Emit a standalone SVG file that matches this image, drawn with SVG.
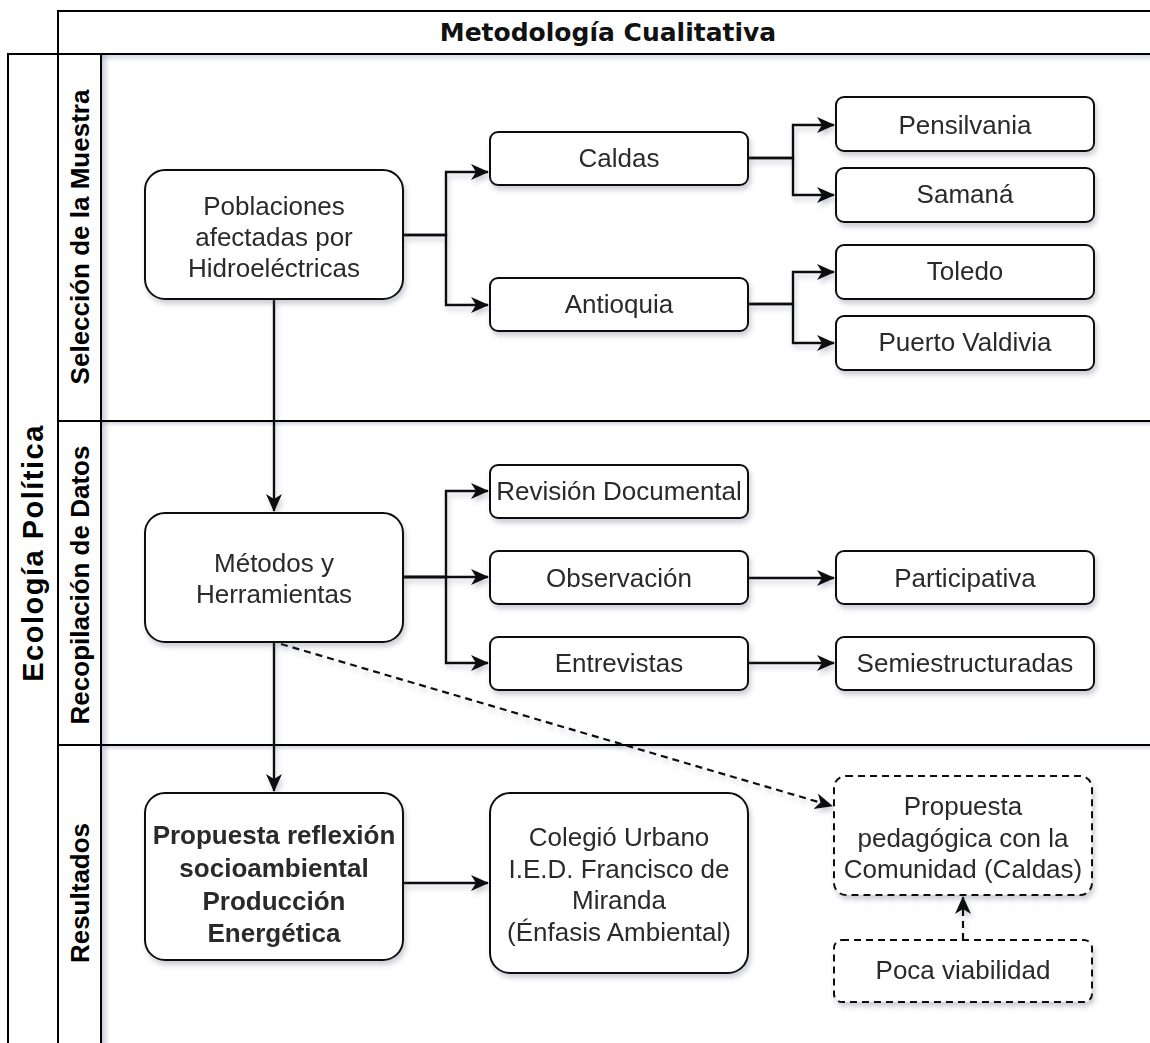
<svg xmlns="http://www.w3.org/2000/svg" width="1150" height="1043" viewBox="0 0 1150 1043">
<defs>
<style>
.frame{fill:none;stroke:#000;stroke-width:2}
.node{fill:#fff;stroke:#111;stroke-width:2}
.dnode{fill:#fff;stroke:#111;stroke-width:2;stroke-dasharray:7 5}
.t{font-family:"Liberation Sans",Arial,sans-serif;font-size:26px;fill:#2a2a2a;text-anchor:middle;dominant-baseline:central}
.tb{font-family:"Liberation Sans",Arial,sans-serif;font-size:26px;font-weight:bold;fill:#2a2a2a;text-anchor:middle;dominant-baseline:central}
.lane{font-family:"Liberation Sans",Arial,sans-serif;font-size:26px;font-weight:bold;fill:#000;text-anchor:middle;dominant-baseline:central}
.pool{font-family:"Liberation Sans",Arial,sans-serif;font-size:29px;font-weight:bold;letter-spacing:1.5px;fill:#000;text-anchor:middle;dominant-baseline:central}
.title{font-family:"DejaVu Sans",Verdana,sans-serif;font-size:25px;font-weight:bold;fill:#111;text-anchor:middle;dominant-baseline:central}
.edge{fill:none;stroke:#111;stroke-width:2.4}
.dedge{fill:none;stroke:#111;stroke-width:2.2;stroke-dasharray:7 5}
</style>
<filter id="sh" x="-10%" y="-10%" width="130%" height="140%">
<feDropShadow dx="2" dy="4" stdDeviation="2.5" flood-color="#4a5070" flood-opacity="0.28"/>
</filter>
<marker id="arr" markerWidth="20" markerHeight="20" refX="17" refY="10" orient="auto" markerUnits="userSpaceOnUse">
<path d="M0,2 L18,10 L0,18 L5,10 Z" fill="#111"/>
</marker>
<linearGradient id="gv" x1="0" y1="0" x2="1" y2="0">
<stop offset="0" stop-color="#8a90b0" stop-opacity="0.45"/>
<stop offset="1" stop-color="#8a90b0" stop-opacity="0"/>
</linearGradient>
<linearGradient id="gh" x1="0" y1="0" x2="0" y2="1">
<stop offset="0" stop-color="#8a90b0" stop-opacity="0.35"/>
<stop offset="1" stop-color="#8a90b0" stop-opacity="0"/>
</linearGradient>
</defs>
<rect x="0" y="0" width="1150" height="1043" fill="#fff"/>

<g id="pool">
<rect x="102" y="55" width="8" height="988" fill="url(#gv)"/>
<rect x="102" y="55" width="1048" height="7" fill="url(#gh)"/>
<rect x="102" y="422" width="1048" height="5" fill="url(#gh)"/>
<rect x="102" y="746" width="1048" height="5" fill="url(#gh)"/>
<path class="frame" d="M58,1043 V11 H1150"/>
<path class="frame" d="M8,1043 V54 H1150"/>
<path class="frame" d="M101,54 V1043"/>
<path class="frame" d="M58,421 H1150"/>
<path class="frame" d="M58,745 H1150"/>
<text class="title" x="608" y="32">Metodología Cualitativa</text>
<text class="pool" transform="translate(33,553) rotate(-90)">Ecología Política</text>
<text class="lane" transform="translate(80,237) rotate(-90)">Selección de la Muestra</text>
<text class="lane" transform="translate(80,585) rotate(-90)">Recopilación de Datos</text>
<text class="lane" transform="translate(80,893) rotate(-90)">Resultados</text>
</g>

<g id="connectors" filter="url(#sh)">
<path class="edge" d="M403,235 H446 V172 H488" marker-end="url(#arr)"/>
<path class="edge" d="M403,235 H446 V305 H488" marker-end="url(#arr)"/>
<path class="edge" d="M748,158 H793 V125 H834" marker-end="url(#arr)"/>
<path class="edge" d="M748,158 H793 V195 H834" marker-end="url(#arr)"/>
<path class="edge" d="M748,304 H793 V272 H834" marker-end="url(#arr)"/>
<path class="edge" d="M748,304 H793 V343 H834" marker-end="url(#arr)"/>
<path class="edge" d="M274,299 V511" marker-end="url(#arr)"/>
<path class="edge" d="M403,577 H446 V491 H488" marker-end="url(#arr)"/>
<path class="edge" d="M403,577 H488" marker-end="url(#arr)"/>
<path class="edge" d="M403,577 H446 V663 H488" marker-end="url(#arr)"/>
<path class="edge" d="M748,578 H834" marker-end="url(#arr)"/>
<path class="edge" d="M748,663 H834" marker-end="url(#arr)"/>
<path class="edge" d="M274,642 V791" marker-end="url(#arr)"/>
<path class="edge" d="M403,883 H488" marker-end="url(#arr)"/>
<path class="dedge" d="M281,644 L832,806" marker-end="url(#arr)"/>
<path class="dedge" d="M963,940 V897" marker-end="url(#arr)"/>
</g>

<g id="poblaciones" filter="url(#sh)">
<rect class="node" x="145" y="170" width="258" height="129" rx="20"/>
<text class="t" x="274" y="206">Poblaciones</text>
<text class="t" x="274" y="237">afectadas por</text>
<text class="t" x="274" y="268">Hidroeléctricas</text>
</g>
<g id="caldas" filter="url(#sh)">
<rect class="node" x="490" y="132" width="258" height="53" rx="8"/>
<text class="t" x="619" y="158">Caldas</text>
</g>
<g id="antioquia" filter="url(#sh)">
<rect class="node" x="490" y="278" width="258" height="53" rx="8"/>
<text class="t" x="619" y="304">Antioquia</text>
</g>
<g id="pensilvania" filter="url(#sh)">
<rect class="node" x="836" y="97" width="258" height="54" rx="8"/>
<text class="t" x="965" y="125">Pensilvania</text>
</g>
<g id="samana" filter="url(#sh)">
<rect class="node" x="836" y="168" width="258" height="54" rx="8"/>
<text class="t" x="965" y="194">Samaná</text>
</g>
<g id="toledo" filter="url(#sh)">
<rect class="node" x="836" y="245" width="258" height="54" rx="8"/>
<text class="t" x="965" y="271">Toledo</text>
</g>
<g id="puerto-valdivia" filter="url(#sh)">
<rect class="node" x="836" y="316" width="258" height="54" rx="8"/>
<text class="t" x="965" y="342">Puerto Valdivia</text>
</g>
<g id="metodos" filter="url(#sh)">
<rect class="node" x="145" y="513" width="258" height="129" rx="20"/>
<text class="t" x="274" y="563">Métodos y</text>
<text class="t" x="274" y="594">Herramientas</text>
</g>
<g id="revision" filter="url(#sh)">
<rect class="node" x="490" y="465" width="258" height="53" rx="8"/>
<text class="t" x="619" y="491">Revisión Documental</text>
</g>
<g id="observacion" filter="url(#sh)">
<rect class="node" x="490" y="551" width="258" height="53" rx="8"/>
<text class="t" x="619" y="578">Observación</text>
</g>
<g id="entrevistas" filter="url(#sh)">
<rect class="node" x="490" y="637" width="258" height="53" rx="8"/>
<text class="t" x="619" y="663">Entrevistas</text>
</g>
<g id="participativa" filter="url(#sh)">
<rect class="node" x="836" y="551" width="258" height="53" rx="8"/>
<text class="t" x="965" y="578">Participativa</text>
</g>
<g id="semiestructuradas" filter="url(#sh)">
<rect class="node" x="836" y="637" width="258" height="53" rx="8"/>
<text class="t" x="965" y="663">Semiestructuradas</text>
</g>
<g id="propuesta-reflexion" filter="url(#sh)">
<rect class="node" x="145" y="793" width="258" height="167" rx="20"/>
<text class="tb" x="274" y="835">Propuesta reflexión</text>
<text class="tb" x="274" y="868">socioambiental</text>
<text class="tb" x="274" y="901">Producción</text>
<text class="tb" x="274" y="933">Energética</text>
</g>
<g id="colegio" filter="url(#sh)">
<rect class="node" x="490" y="793" width="258" height="180" rx="20"/>
<text class="t" x="619" y="837">Colegió Urbano</text>
<text class="t" x="619" y="869">I.E.D. Francisco de</text>
<text class="t" x="619" y="900">Miranda</text>
<text class="t" x="619" y="932">(Énfasis Ambiental)</text>
</g>
<g id="propuesta-pedagogica" filter="url(#sh)">
<rect class="dnode" x="834" y="776" width="258" height="119" rx="12"/>
<text class="t" x="963" y="806">Propuesta</text>
<text class="t" x="963" y="838">pedagógica con la</text>
<text class="t" x="963" y="869">Comunidad (Caldas)</text>
</g>
<g id="poca-viabilidad" filter="url(#sh)">
<rect class="dnode" x="834" y="940" width="258" height="62" rx="8"/>
<text class="t" x="963" y="970">Poca viabilidad</text>
</g>
</svg>
